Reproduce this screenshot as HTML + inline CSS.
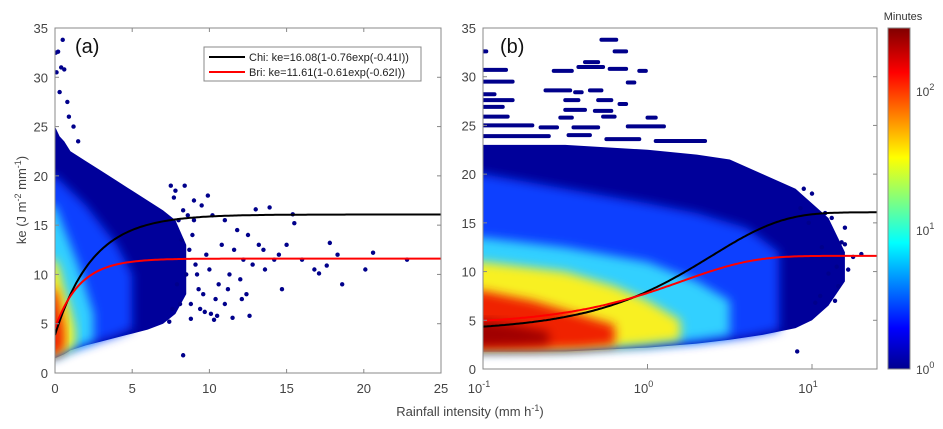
<!DOCTYPE html>
<html><head><meta charset="utf-8">
<style>
html,body{margin:0;padding:0;background:#fff;}
svg{display:block;font-family:"Liberation Sans",sans-serif;}
</style></head>
<body>
<svg id="chart" width="943" height="429" viewBox="0 0 943 429" xmlns="http://www.w3.org/2000/svg">
<defs>
<filter id="blur" x="-20%" y="-20%" width="140%" height="140%"><feGaussianBlur stdDeviation="5"/></filter>
<clipPath id="clipA"><rect x="55" y="28" width="386" height="345"/></clipPath>
<clipPath id="clipB"><rect x="483" y="28" width="394" height="341"/></clipPath>
<linearGradient id="jet" x1="0" y1="1" x2="0" y2="0">
<stop offset="0" stop-color="#00008f"/><stop offset="0.12" stop-color="#0000ff"/>
<stop offset="0.37" stop-color="#00ffff"/><stop offset="0.62" stop-color="#ffff00"/>
<stop offset="0.87" stop-color="#ff0000"/><stop offset="1" stop-color="#800000"/>
</linearGradient>
</defs>
<g id="panelA"></g>
<g id="panelB"></g>
<g id="cbar"></g>
<text x="470" y="416" font-size="13" fill="#444" text-anchor="middle">Rainfall intensity (mm h<tspan dy="-5" font-size="9">-1</tspan><tspan dy="5">)</tspan></text>
<text transform="translate(26,200) rotate(-90)" font-size="13" fill="#444" text-anchor="middle">ke (J m<tspan dy="-5" font-size="9">-2</tspan><tspan dy="5"> mm</tspan><tspan dy="-5" font-size="9">-1</tspan><tspan dy="5">)</tspan></text>
</svg>
<script>
// ---- data ----
const aEnvX=[0,0.3,0.6,1,2,3,4,5,6,7,7.8,8.5];
const aEnvHi=[25,24,23.5,22.5,21.5,20.5,19.5,18.5,17.5,16.5,15.5,13];
const aEnvLo=[1.5,1.7,1.9,2.3,2.8,3.2,3.6,4,4.4,5,6,8];
const aBlueX=[-1,0,1,2,3,4,5];const aBlueHi=[20,20,18.5,17,15,13,10];const aBlueLo=[1.4,1.6,2.3,2.8,3.3,3.8,4.5];
const aCyanX=[-1,0,0.5,1,1.5,2,2.5];const aCyanHi=[17,17,15,13,11,8.5,6];const aCyanLo=[1.5,1.7,2,2.4,2.7,3,3.3];
const aYelX=[-1,0,0.3,0.6,1,1.3];const aYelHi=[11.5,11.5,10.5,8.5,6.5,4.5];const aYelLo=[1.6,1.8,2,2.2,2.5,2.8];
const aRedX=[-1,0,0.2,0.4,0.6];const aRedHi=[8.5,8.5,7.5,6,4.5];const aRedLo=[1.6,1.8,2,2.2,2.5];
const aDotX=[8.3,22.8,20.1,20.6,18.6,17.8,18.3,17.6,16.8,17.1,13.9,13,15.5,15.4,14.7,12.6,11.5,10.3,0.2,0.5,0.4,0.6,0.3,0.1,0.05,0.9,1.2,0.8,1.5,
 9.5,10.2,11,11.8,12.5,13.2,9.8,10.8,11.6,12.2,13.5,14.2,9.2,10,10.6,11.3,12,12.8,13.6,9.6,10.4,11.2,12.4,8.8,9.4,10.1,11,12.1,8.6,9.9,15,16,14.5,7.8,8.4,9,7.5,8,8.9,
 8.2,8.7,9.1,8.5,7.9,9.3,8.1,7.6,8.8,9.7,10.5,7.4,8.3,9.0,7.7];
const aDotY=[1.8,11.5,10.5,12.2,9,13.2,12,10.9,10.5,10.1,16.8,16.6,15.2,16.1,8.5,5.8,5.6,5.4,32.6,33.8,31,30.8,28.5,30.5,32.5,26,25,27.5,23.5,
 17,16,15.5,14.5,14,13,12,13,12.5,11.5,12.5,11.5,10,10.5,9,10,9.5,11,10.5,8,7.5,8.5,8,7,6.5,6,7,7.5,16,18,13,11.5,12,18.5,19,17.5,19,15.5,14,
 13.5,12.5,11,10,9,8.5,7,6.5,5.5,6.2,5.8,5.2,16.5,15.5,17.8];
const bEnvX=[-1,-0.5,0,0.3,0.5,0.7,0.9,1.0,1.1,1.2];
const bEnvHi=[23,23,22.5,22,21.5,20,18.5,17,15.5,12];
const bEnvLo=[1.8,1.8,2.2,2.6,3.0,3.5,4.2,5,6.5,9];
const bBlueX=[-1.2,-1,-0.5,0,0.3,0.6,0.8];const bBlueHi=[20,20,18.5,17,16,14.5,12];const bBlueLo=[1.8,1.8,1.9,2.3,2.7,3.3,4];
const bCyanX=[-1.2,-1,-0.5,0,0.3,0.5];const bCyanHi=[13.5,13.5,12.5,11,9,7];const bCyanLo=[1.9,1.9,2,2.5,3,3.5];
const bYelX=[-1.2,-1,-0.5,-0.2,0,0.2];const bYelHi=[11,11,10,8.5,7,5];const bYelLo=[1.9,1.9,2,2.3,2.6,3];
const bRedX=[-1.2,-1,-0.7,-0.4,-0.2];const bRedHi=[8,8,7,5.5,4.5];const bRedLo=[2,2,2,2.2,2.5];
const bDkX=[-1.2,-1,-0.8,-0.6];const bDkHi=[5,5,4.5,3.8];const bDkLo=[2.3,2.3,2.4,2.6];
const bStrX0=[-0.28,-1,-0.2,-0.38,-0.42,-0.23,-0.05,-1,-0.57,-1,-0.12,-0.62,-0.44,-0.35,-1,-1,-0.5,-0.3,-0.17,-1,-0.5,-0.32,-1,-0.53,-0.27,0,-1,-0.65,-0.45,-0.12,-1,-0.48,-0.25,0.05];
const bStrX1=[-0.19,-0.98,-0.13,-0.3,-0.27,-0.13,-0.01,-0.86,-0.46,-0.82,-0.08,-0.47,-0.4,-0.28,-0.93,-0.82,-0.42,-0.22,-0.13,-0.88,-0.38,-0.22,-0.85,-0.46,-0.2,0.05,-0.7,-0.55,-0.3,0.1,-0.6,-0.35,-0.05,0.35];
const bStrY=[33.8,32.6,32.6,31.5,31,30.8,30.6,30.7,30.6,29.5,29.4,28.6,28.4,28.6,28.2,27.6,27.6,27.6,27.2,26.9,26.6,26.5,25.9,25.8,25.9,25.8,25,24.8,24.8,24.9,23.9,24,23.6,23.4];
const bDotX=[0.91,1.25,1.3,1.2,1.15,1.1,1.05,1.2,1.12,1.0,1.08,1.18,0.95,1.02,1.14,1.22,0.98,1.06,1.16,0.93];
const bDotY=[1.8,11.5,11.8,12.8,10.5,9.8,7.5,14.5,15.5,18,16,13,18.5,6.8,7,10.2,15,12.5,8.5,16.5];
const chiP=[16.08,0.76,0.41], briP=[11.61,0.61,0.62];
const yTicks=[0,5,10,15,20,25,30,35];
const aXTicks=[0,5,10,15,20,25];
const bXTicks=[-1,0,1];
const cTicks=[0,1,2];
// ---- scales ----
const xa=v=>55+v*386/25, ya=v=>373-v*345/35;
const xb=v=>483+(v+1)*164.5, yb=v=>369-v*341/35;
const NS="http://www.w3.org/2000/svg";
function mk(tag,attrs,parent){const e=document.createElementNS(NS,tag);for(const k in attrs)e.setAttribute(k,attrs[k]);parent.appendChild(e);return e;}
function band(g,xs,hi,lo,sx,sy,color,blur,name){
 let pts=[];xs.forEach((x,i)=>pts.push(sx(x)+","+sy(hi[i])));
 for(let i=xs.length-1;i>=0;i--)pts.push(sx(xs[i])+","+sy(lo[i]));
 const p=mk("polygon",{points:pts.join(" "),fill:color},g);
 if(blur)p.setAttribute("filter","url(#blur)");
 
 
}
function fit(p,I){return p[0]*(1-p[1]*Math.exp(-p[2]*I));}
function axes(g,x0,y0,x1,y1){
 mk("rect",{x:x0,y:y0,width:x1-x0,height:y1-y0,fill:"none",stroke:"#888","stroke-width":1},g);
}
// ---- panel A ----
const A=document.getElementById("panelA");
const Ad=mk("g",{"clip-path":"url(#clipA)"},A);
band(Ad,aEnvX,aEnvHi,aEnvLo,xa,ya,"#00009a",false,"density-envelope");
band(Ad,aBlueX,aBlueHi,aBlueLo,xa,ya,"#1040ff",true,"density-blue");
band(Ad,aCyanX,aCyanHi,aCyanLo,xa,ya,"#30d0ff",true,"density-cyan");
band(Ad,aYelX,aYelHi,aYelLo,xa,ya,"#f8f020",true,"density-yellow");
band(Ad,aRedX,aRedHi,aRedLo,xa,ya,"#f02000",true,"density-red");
aDotX.forEach((x,i)=>{const c=mk("circle",{cx:xa(x),cy:ya(aDotY[i]),r:2.2,fill:"#00008b"},Ad);
 
 });
function curve(g,p,sx,sy,color,I0,I1,log,name){
 let d="";for(let k=0;k<=200;k++){let I=log?Math.pow(10,Math.log10(I0)+k/200*(Math.log10(I1)-Math.log10(I0))):I0+k/200*(I1-I0);
  d+=(k?"L":"M")+sx(log?Math.log10(I):I).toFixed(1)+","+sy(fit(p,I)).toFixed(1);}
 const e=mk("path",{d:d,fill:"none",stroke:color,"stroke-width":2},g);
 
 }
curve(Ad,chiP,xa,ya,"#000",0,25,false,"chi-fit-line");
curve(Ad,briP,xa,ya,"#f00",0,25,false,"bri-fit-line");
axes(A,55,28,441,373);
yTicks.forEach(v=>{const t=mk("text",{x:48,y:ya(v)+5,"font-size":13,fill:"#444","text-anchor":"end"},A);t.textContent=v;
 
 mk("line",{x1:55,x2:59,y1:ya(v),y2:ya(v),stroke:"#888"},A);mk("line",{x1:437,x2:441,y1:ya(v),y2:ya(v),stroke:"#888"},A);});
aXTicks.forEach(v=>{const t=mk("text",{x:xa(v),y:393,"font-size":13,fill:"#444","text-anchor":"middle"},A);t.textContent=v;
 
 mk("line",{x1:xa(v),x2:xa(v),y1:373,y2:369,stroke:"#888"},A);mk("line",{x1:xa(v),x2:xa(v),y1:28,y2:32,stroke:"#888"},A);});
const la=mk("text",{x:75,y:53,"font-size":20,fill:"#111"},A);la.textContent="(a)";
const lg=mk("g",{},A);
mk("rect",{x:204,y:47,width:217,height:34,fill:"#fff",stroke:"#888"},lg);
mk("line",{x1:209,x2:245,y1:57,y2:57,stroke:"#000","stroke-width":2},lg);
mk("line",{x1:209,x2:245,y1:72,y2:72,stroke:"#f00","stroke-width":2},lg);
const t1=mk("text",{x:249,y:61,"font-size":11,fill:"#222"},lg);t1.textContent="Chi: ke=16.08(1-0.76exp(-0.41I))";
const t2=mk("text",{x:249,y:76,"font-size":11,fill:"#222"},lg);t2.textContent="Bri: ke=11.61(1-0.61exp(-0.62I))";
// ---- panel B ----
const B=document.getElementById("panelB");
const Bd=mk("g",{"clip-path":"url(#clipB)"},B);
bStrX0.forEach((x,i)=>{const l=mk("line",{x1:xb(x),x2:xb(bStrX1[i]),y1:yb(bStrY[i]),y2:yb(bStrY[i]),stroke:"#00008b","stroke-width":4,"stroke-linecap":"round"},Bd);
 });
band(Bd,bEnvX,bEnvHi,bEnvLo,xb,yb,"#00009a",false,"density-envelope");
band(Bd,bBlueX,bBlueHi,bBlueLo,xb,yb,"#1040ff",true,"density-blue");
band(Bd,bCyanX,bCyanHi,bCyanLo,xb,yb,"#30d0ff",true,"density-cyan");
band(Bd,bYelX,bYelHi,bYelLo,xb,yb,"#f8f020",true,"density-yellow");
band(Bd,bRedX,bRedHi,bRedLo,xb,yb,"#f02000",true,"density-red");
band(Bd,bDkX,bDkHi,bDkLo,xb,yb,"#a00000",true,"density-darkred");
bDotX.forEach((x,i)=>{const c=mk("circle",{cx:xb(x),cy:yb(bDotY[i]),r:2.2,fill:"#00008b"},Bd);
 });
curve(Bd,chiP,xb,yb,"#000",0.1,25,true,"chi-fit-line");
curve(Bd,briP,xb,yb,"#f00",0.1,25,true,"bri-fit-line");
axes(B,483,28,877,369);
yTicks.forEach(v=>{const t=mk("text",{x:476,y:yb(v)+5,"font-size":13,fill:"#444","text-anchor":"end"},B);t.textContent=v;
 
 mk("line",{x1:483,x2:487,y1:yb(v),y2:yb(v),stroke:"#888"},B);mk("line",{x1:873,x2:877,y1:yb(v),y2:yb(v),stroke:"#888"},B);});
bXTicks.forEach(v=>{const t=mk("text",{x:xb(v)-4,y:393,"font-size":13,fill:"#444","text-anchor":"middle"},B);
 t.appendChild(document.createTextNode("10"));const s=mk("tspan",{dy:-6,"font-size":9},t);s.textContent=v;
 
 mk("line",{x1:xb(v),x2:xb(v),y1:369,y2:364,stroke:"#888"},B);});
const lb=mk("text",{x:500,y:53,"font-size":20,fill:"#111"},B);lb.textContent="(b)";
// ---- colorbar ----
const C=document.getElementById("cbar");
const cr=mk("rect",{x:888,y:28,width:22,height:341,fill:"url(#jet)",stroke:"#888"},C);

const ct=mk("text",{x:903,y:20,"font-size":11,fill:"#333","text-anchor":"middle"},C);ct.textContent="Minutes";

const cy=v=>369-v*139;
cTicks.forEach(v=>{const t=mk("text",{x:916,y:cy(v)+5,"font-size":12,fill:"#444"},C);
 t.appendChild(document.createTextNode("10"));const s=mk("tspan",{dy:-6,"font-size":9},t);s.textContent=v;
 });
</script>
</body></html>
